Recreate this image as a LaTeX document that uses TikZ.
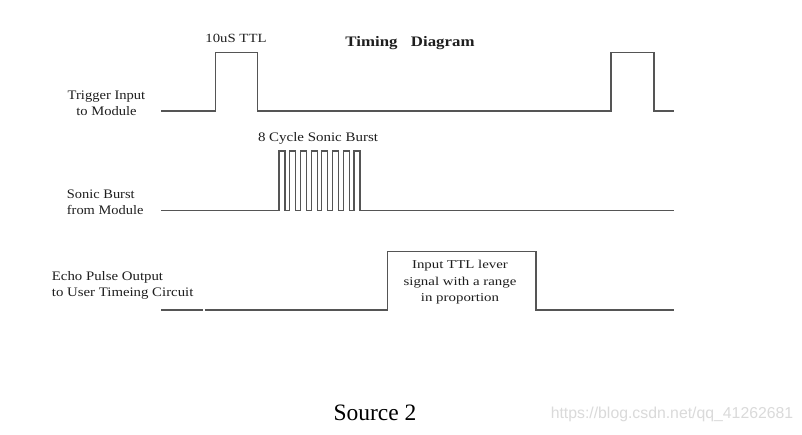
\documentclass[tikz,border=0pt]{standalone}
\usepackage{fontspec}
\setmainfont{Liberation Serif}
\newfontfamily\wmfont{Liberation Sans}
\definecolor{wavecol}{RGB}{85,85,85}
\definecolor{txtcol}{RGB}{30,30,30}
\definecolor{wmcol}{RGB}{218,218,218}
\begin{document}
\begin{tikzpicture}[x=1pt,y=-1pt,
  wave/.style={draw=wavecol,line width=1.4pt,line join=miter},
  lbl/.style={text=txtcol,inner sep=0pt,font=\fontsize{13}{16}\selectfont},
]
\useasboundingbox[fill=white] (0,0) rectangle (802,435);

% title and labels
\node[lbl,font=\bfseries\fontsize{14.5}{17}\selectfont,xscale=1.16] (title) at (410,43) {Timing\hspace{8pt} Diagram};
\node[lbl,font=\fontsize{12.5}{15}\selectfont,xscale=1.18] (ttl) at (236,38) {10uS TTL};
\node[lbl,xscale=1.15] (burst) at (318,138) {8 Cycle Sonic Burst};
\node[lbl,align=center,xscale=1.12] (trig) at (106.5,103) {Trigger Input\\to Module};
\node[lbl,align=left,anchor=west,xscale=1.11] (sonic) at (66.7,202) {Sonic Burst\\from Module};
\node[lbl,align=left,anchor=west,xscale=1.14] (echo) at (51.7,285) {Echo Pulse Output\\to User Timeing Circuit};
\node[lbl,align=center,font=\fontsize{12}{16.5}\selectfont,xscale=1.24] (range) at (460,282.5) {Input TTL lever\\signal with a range\\in proportion};
\node[text=black,inner sep=0pt,font=\fontsize{23.5}{26}\selectfont] (src) at (375,413) {Source 2};
\node[text=wmcol,inner sep=0pt,font=\wmfont\fontsize{15.8}{18}\selectfont] (wm) at (672,414) {https://blog.csdn.net/qq\_41262681};

% trigger waveform
\draw[wave] (161,111) -- (215.5,111) -- (215.5,52.5) -- (257.5,52.5) -- (257.5,111)
  -- (611,111) -- (611,52.5) -- (654,52.5) -- (654,111) -- (674,111);

% sonic burst waveform
\draw[wave,line width=1.2pt] (161,210.7)
  foreach \i in {0,...,7} {
    -- ({279+\i*10.7},210.7) -- ({279+\i*10.7},151) -- ({285+\i*10.7},151) -- ({285+\i*10.7},210.7)
  } -- (674,210.7);

% echo waveform
\draw[wave] (161,310) -- (203.3,310);
\draw[wave] (204.8,310) -- (387.5,310) -- (387.5,251.5) -- (536,251.5) -- (536,310) -- (674,310);
\end{tikzpicture}
\end{document}
